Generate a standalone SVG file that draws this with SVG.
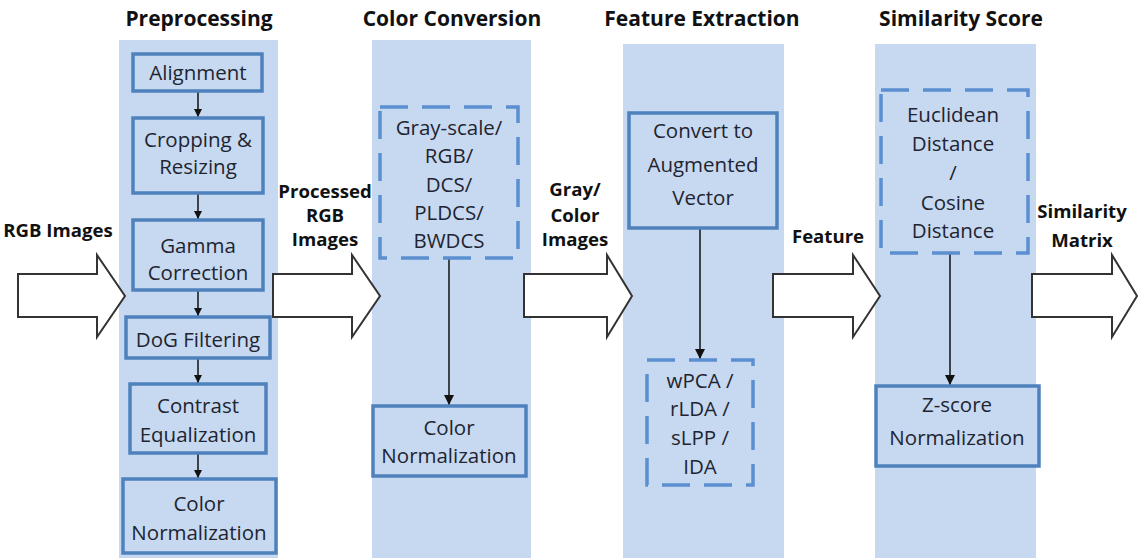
<svg xmlns="http://www.w3.org/2000/svg" width="1139" height="558" viewBox="0 0 1139 558">
<style>
.bg{fill:#c6d9f0;stroke:none}
.box{fill:#c6d9f0;stroke:#4f81bd;stroke-width:3.5}
.dbox{fill:#c6d9f0;stroke:#5b8fd0;stroke-width:3.5;stroke-dasharray:28 14}
.t{font-family:"Open Sans","Liberation Sans",sans-serif;font-size:20.5px;fill:#1f2430;text-anchor:middle}
.h{font-family:"Open Sans","Liberation Sans",sans-serif;font-size:21px;font-weight:bold;fill:#111;text-anchor:middle}
.l{font-family:"Open Sans","Liberation Sans",sans-serif;font-size:18.6px;font-weight:bold;fill:#111;text-anchor:middle}
.big{fill:#fff;stroke:#333;stroke-width:2;stroke-linejoin:miter}
.sm{stroke:#111;stroke-width:1.5;fill:none}
</style>
<defs>
<marker id="ah" viewBox="0 0 10 10" refX="10" refY="5" markerWidth="8" markerHeight="8" markerUnits="userSpaceOnUse" orient="auto">
<path d="M0,0 L10,5 L0,10 Z" fill="#111"/>
</marker>
<marker id="ah2" viewBox="0 0 10 10" refX="10" refY="5" markerWidth="11" markerHeight="10" markerUnits="userSpaceOnUse" orient="auto">
<path d="M0,0 L10,5 L0,10 Z" fill="#111"/>
</marker>
</defs>
<rect width="1139" height="558" fill="#fff"/>
<!-- column backgrounds -->
<g id="columns">
<rect class="bg" x="119" y="40" width="159" height="518"/>
<rect class="bg" x="372" y="40" width="159" height="518"/>
<rect class="bg" x="623" y="44" width="161" height="514"/>
<rect class="bg" x="875" y="44" width="161" height="514"/>
</g>
<g id="titles">
<text class="h" x="199" y="26">Preprocessing</text>
<text class="h" x="452" y="26">Color Conversion</text>
<text class="h" x="702" y="26">Feature Extraction</text>
<text class="h" x="961" y="26">Similarity Score</text>
</g>
<!-- connectors -->
<g id="connectors">
<line class="sm" x1="198" y1="92" x2="198" y2="117" marker-end="url(#ah)"/>
<line class="sm" x1="198" y1="194" x2="198" y2="219" marker-end="url(#ah)"/>
<line class="sm" x1="198" y1="291" x2="198" y2="316" marker-end="url(#ah)"/>
<line class="sm" x1="198" y1="359" x2="198" y2="383" marker-end="url(#ah)"/>
<line class="sm" x1="198" y1="454" x2="198" y2="478" marker-end="url(#ah)"/>
<line class="sm" x1="449" y1="258" x2="449" y2="405" marker-end="url(#ah2)"/>
<line class="sm" x1="700" y1="228" x2="700" y2="359" marker-end="url(#ah2)"/>
<line class="sm" x1="950" y1="253" x2="950" y2="385" marker-end="url(#ah2)"/>
<path class="big" d="M18,274 H97 V255 L125,296 L97,337 V317 H18 Z"/>
<path class="big" d="M273,274 H352 V255 L380,296 L352,337 V317 H273 Z"/>
<path class="big" d="M524,274 H607 V255 L632,296 L607,337 V317 H524 Z"/>
<path class="big" d="M773,274 H853 V255 L880,296 L853,337 V317 H773 Z"/>
<path class="big" d="M1032,274 H1112 V255 L1137,296 L1112,337 V317 H1032 Z"/>
</g>
<g id="labels">
<text class="l" x="58" y="237">RGB Images</text>
<text class="l" x="325" y="198">Processed</text>
<text class="l" x="325" y="222">RGB</text>
<text class="l" x="325" y="246">Images</text>
<text class="l" x="575" y="196">Gray/</text>
<text class="l" x="575" y="222">Color</text>
<text class="l" x="575" y="246">Images</text>
<text class="l" x="828" y="243">Feature</text>
<text class="l" x="1082" y="218">Similarity</text>
<text class="l" x="1082" y="247">Matrix</text>
</g>
<!-- Preprocessing nodes -->
<g id="alignment">
<rect class="box" x="133" y="54" width="129" height="37"/>
<text class="t" x="198" y="80">Alignment</text>
</g>
<g id="cropping">
<rect class="box" x="133" y="118" width="130" height="75"/>
<text class="t" x="198" y="147">Cropping &amp;</text>
<text class="t" x="198" y="174">Resizing</text>
</g>
<g id="gamma">
<rect class="box" x="133" y="220" width="130" height="70"/>
<text class="t" x="198" y="253">Gamma</text>
<text class="t" x="198" y="280">Correction</text>
</g>
<g id="dog">
<rect class="box" x="126" y="317" width="144" height="41"/>
<text class="t" x="198" y="347">DoG Filtering</text>
</g>
<g id="contrast">
<rect class="box" x="130" y="384" width="136" height="69"/>
<text class="t" x="198" y="413">Contrast</text>
<text class="t" x="198" y="442">Equalization</text>
</g>
<g id="colornorm1">
<rect class="box" x="123" y="479" width="153" height="74"/>
<text class="t" x="199" y="511">Color</text>
<text class="t" x="199" y="540">Normalization</text>
</g>
<!-- Color conversion nodes -->
<g id="colorspaces">
<rect class="dbox" x="380" y="107" width="138" height="151"/>
<text class="t" x="449" y="135">Gray-scale/</text>
<text class="t" x="449" y="163">RGB/</text>
<text class="t" x="449" y="192">DCS/</text>
<text class="t" x="449" y="220">PLDCS/</text>
<text class="t" x="449" y="248">BWDCS</text>
</g>
<g id="colornorm2">
<rect class="box" x="373" y="406" width="153" height="70"/>
<text class="t" x="449" y="435">Color</text>
<text class="t" x="449" y="463">Normalization</text>
</g>
<!-- Feature extraction nodes -->
<g id="augvector">
<rect class="box" x="629" y="113" width="148" height="115"/>
<text class="t" x="703" y="138">Convert to</text>
<text class="t" x="703" y="172">Augmented</text>
<text class="t" x="703" y="205">Vector</text>
</g>
<g id="subspace">
<rect class="dbox" x="647" y="360" width="106" height="125"/>
<text class="t" x="700" y="388">wPCA /</text>
<text class="t" x="700" y="416">rLDA /</text>
<text class="t" x="700" y="445">sLPP /</text>
<text class="t" x="700" y="474">IDA</text>
</g>
<!-- Similarity score nodes -->
<g id="distance">
<rect class="dbox" x="881" y="90" width="147" height="163"/>
<text class="t" x="953" y="122">Euclidean</text>
<text class="t" x="953" y="151">Distance</text>
<text class="t" x="953" y="180">/</text>
<text class="t" x="953" y="210">Cosine</text>
<text class="t" x="953" y="238">Distance</text>
</g>
<g id="zscore">
<rect class="box" x="876" y="386" width="163" height="80"/>
<text class="t" x="957" y="412">Z-score</text>
<text class="t" x="957" y="445">Normalization</text>
</g>
</svg>
